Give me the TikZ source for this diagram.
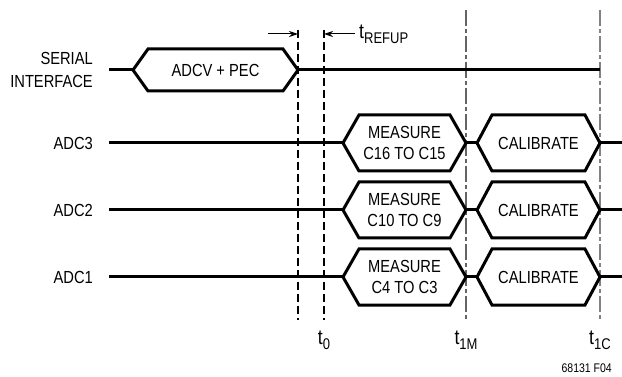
\documentclass[tikz,border=0pt]{standalone}
\usepackage{fontspec}
\setmainfont{Liberation Sans}[FakeStretch=0.84]
\usetikzlibrary{arrows.meta,calc}
\definecolor{gmid}{RGB}{100,100,100}
\definecolor{glight}{RGB}{130,130,130}
\tikzset{
  sig/.style={line width=3pt},
  hexline/.style={line width=3pt, line join=miter},
  lbl/.style={font=\fontsize{17.5}{20}\selectfont, inner sep=0pt},
  rlbl/.style={lbl, anchor=east, align=right},
  blk/.style={draw=black, line width=1.2pt, dash pattern=on 8pt off 4pt},
  gry/.style={draw=gmid, line width=1.5pt, dash pattern=on 16pt off 3pt on 4pt off 3pt},
  gry2/.style={draw=glight, line width=1.5pt, dash pattern=on 16pt off 3pt on 4pt off 3pt},
  dimarrow/.style={line width=1pt, -{Stealth[length=9pt,width=6pt]}},
}
\newcommand{\tsub}[1]{{\fontsize{21}{21}\selectfont t}\raisebox{-5pt}{\fontsize{15.5}{15.5}\selectfont #1}}
% \hexsig{name}{x left tip}{x right tip}{y centre}{half height}{depth}{text}
\newcommand{\hexsig}[7]{%
  \coordinate (#1-w) at (#2,#4);
  \coordinate (#1-e) at (#3,#4);
  \draw[hexline] (#1-w) -- ($(#1-w)+(#6,-#5)$) -- ($(#1-e)+(-#6,-#5)$) -- (#1-e)
     -- ($(#1-e)+(-#6,#5)$) -- ($(#1-w)+(#6,#5)$) -- cycle;
  \node[lbl, align=center] (#1) at ($(#1-w)!0.5!(#1-e)$) {#7};
}
\begin{document}
\begin{tikzpicture}[x=1pt,y=-1pt]
\useasboundingbox (0,0) rectangle (622,377);

% vertical timing markers
\coordinate (va1) at (298,30);  \coordinate (vb1) at (298,320);
\coordinate (va2) at (324,30);  \coordinate (vb2) at (324,320);
\coordinate (va3) at (466,10);  \coordinate (vb3) at (466,320);
\coordinate (va4) at (600,10);  \coordinate (vb4) at (600,320);
\draw[blk] (va1) -- (vb1);
\draw[blk] (va2) -- (vb2);
\draw[gry] (va3) -- (vb3);
\draw[gry2] (va4) -- (vb4);

% signal labels
\node[rlbl] (lser) at (93,70) {SERIAL\\[3pt]INTERFACE};
\node[rlbl] (l3) at (93,143) {ADC3};
\node[rlbl] (l2) at (93,210) {ADC2};
\node[rlbl] (l1) at (93,277) {ADC1};

% serial interface
\coordinate (s0) at (109,70);
\coordinate (s1) at (600,70);
\hexsig{adcv}{133}{298}{70}{21}{15}{ADCV + PEC}
\draw[sig] (s0) -- (adcv-w);
\draw[sig] (adcv-e) -- (s1);

% ADC rows
\foreach \n/\y/\t in {3/143/{C16 TO C15}, 2/210/{C10 TO C9}, 1/277/{C4 TO C3}}{
  \coordinate (a\n-0) at (109,\y);
  \coordinate (a\n-1) at (622,\y);
  \hexsig{m\n}{343}{466}{\y}{28}{16}{MEASURE\\[1pt]\t}
  \hexsig{c\n}{477}{600}{\y}{28}{15}{CALIBRATE}
  \draw[sig] (a\n-0) -- (m\n-w);
  \draw[sig] (m\n-e) -- (c\n-w);
  \draw[sig] (c\n-e) -- (a\n-1);
}

% tREFUP dimension
\coordinate (ar1) at (268,34);
\coordinate (ar1e) at (298,34);
\coordinate (ar2) at (355,34);
\coordinate (ar2e) at (324,34);
\draw[dimarrow] (ar1) -- (ar1e);
\draw[dimarrow] (ar2) -- (ar2e);
\node[lbl, anchor=west] (tref) at (359,34) {\tsub{REFUP}};

% time labels
\node[lbl] (t0) at (324,340) {\tsub{0}};
\node[lbl] (t1m) at (466,340) {\tsub{1M}};
\node[lbl] (t1c) at (600,340) {\tsub{1C}};
\node[inner sep=0pt, font=\fontsize{12.5}{14}\selectfont, anchor=east] (fig) at (612,368) {68131 F04};
\end{tikzpicture}
\end{document}
